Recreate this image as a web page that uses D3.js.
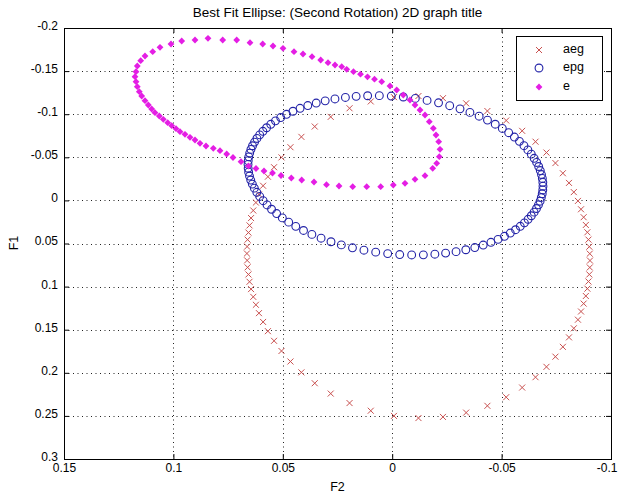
<!DOCTYPE html>
<html><head><meta charset="utf-8">
<script src="https://cdn.jsdelivr.net/npm/d3@7"></script>
<style>body{margin:0;background:#fff}svg{display:block}text{font-family:"Liberation Sans",Arial,sans-serif;fill:#000}</style>
</head><body>
<script>
const title = "Best Fit Ellipse: (Second Rotation) 2D graph title";
const xLabel = "F2", yLabel = "F1";
const xTicks = [0.15, 0.1, 0.05, 0, -0.05, -0.1];
const yTicks = [-0.2, -0.15, -0.1, -0.05, 0, 0.05, 0.1, 0.15, 0.2, 0.25, 0.3];
const seriesNames = ["aeg", "epg", "e"];

const aegX = [-0.0904,-0.0903,-0.0901,-0.0897,-0.0892,-0.0885,-0.0875,-0.0863,-0.0849,-0.0830,-0.0808,-0.0780,-0.0746,-0.0705,-0.0655,-0.0594,-0.0521,-0.0435,-0.0338,-0.0232,
 -0.0120,-0.0008,0.0098,0.0195,0.0281,0.0354,0.0415,0.0465,0.0506,0.0540,0.0568,0.0590,0.0609,0.0623,0.0635,0.0645,0.0652,0.0657,0.0661,0.0663,
 0.0664,0.0663,0.0661,0.0657,0.0652,0.0645,0.0635,0.0623,0.0609,0.0590,0.0568,0.0540,0.0506,0.0465,0.0415,0.0354,0.0281,0.0195,0.0098,-0.0008,
 -0.0120,-0.0232,-0.0338,-0.0435,-0.0521,-0.0594,-0.0655,-0.0705,-0.0746,-0.0780,-0.0808,-0.0830,-0.0849,-0.0863,-0.0875,-0.0885,-0.0892,-0.0897,-0.0901,-0.0903];
const aegY = [0.0698,0.0778,0.0859,0.0941,0.1024,0.1109,0.1197,0.1289,0.1384,0.1484,0.1589,0.1699,0.1813,0.1931,0.2051,0.2171,0.2283,0.2383,0.2462,0.2512,
 0.2525,0.2500,0.2440,0.2351,0.2241,0.2121,0.1995,0.1869,0.1747,0.1629,0.1517,0.1410,0.1308,0.1211,0.1119,0.1029,0.0944,0.0859,0.0777,0.0696,
 0.0616,0.0536,0.0455,0.0373,0.0290,0.0205,0.0117,0.0025,-0.0070,-0.0170,-0.0275,-0.0385,-0.0499,-0.0617,-0.0737,-0.0857,-0.0969,-0.1069,-0.1148,-0.1198,
 -0.1211,-0.1186,-0.1126,-0.1037,-0.0927,-0.0807,-0.0681,-0.0555,-0.0433,-0.0315,-0.0203,-0.0096,0.0006,0.0103,0.0195,0.0285,0.0370,0.0455,0.0537,0.0618];

const epgX = [-0.06882,-0.06857,-0.06815,-0.06759,-0.06685,-0.06594,-0.06486,-0.06358,-0.06211,-0.06043,-0.05853,-0.05638,-0.05398,-0.05132,-0.04837,-0.04513,-0.04159,-0.03775,-0.03365,-0.02918,-0.02441,-0.01950,-0.01424,-0.00890,-0.00344,
 0.00206,0.00754,0.01292,0.01816,0.02326,0.02797,0.03250,0.03671,0.04053,0.04407,0.04731,0.05021,0.05282,0.05514,0.05720,0.05899,0.06055,0.06187,0.06300,0.06392,0.06466,0.06521,0.06561,0.06583,0.06589,
 0.06580,0.06555,0.06513,0.06457,0.06383,0.06292,0.06184,0.06056,0.05909,0.05741,0.05551,0.05336,0.05096,0.04830,0.04535,0.04211,0.03857,0.03473,0.03063,0.02616,0.02139,0.01648,0.01122,0.00588,0.00042,
 -0.00508,-0.01056,-0.01594,-0.02118,-0.02628,-0.03099,-0.03552,-0.03973,-0.04355,-0.04709,-0.05033,-0.05323,-0.05584,-0.05816,-0.06022,-0.06201,-0.06357,-0.06489,-0.06602,-0.06694,-0.06768,-0.06823,-0.06863,-0.06885,-0.06891];
const epgY = [-0.01210,-0.00773,-0.00339,0.00091,0.00518,0.00942,0.01363,0.01780,0.02195,0.02602,0.03006,0.03402,0.03788,0.04162,0.04520,0.04862,0.05179,0.05469,0.05723,0.05944,0.06119,0.06244,0.06316,0.06329,0.06282,
 0.06173,0.06004,0.05777,0.05496,0.05162,0.04795,0.04384,0.03943,0.03489,0.03013,0.02524,0.02028,0.01528,0.01028,0.00530,0.00034,-0.00456,-0.00941,-0.01420,-0.01893,-0.02360,-0.02822,-0.03277,-0.03727,-0.04173,
 -0.04614,-0.05051,-0.05485,-0.05915,-0.06342,-0.06766,-0.07187,-0.07604,-0.08019,-0.08426,-0.08830,-0.09226,-0.09612,-0.09986,-0.10344,-0.10686,-0.11003,-0.11293,-0.11547,-0.11768,-0.11943,-0.12068,-0.12140,-0.12153,-0.12106,
 -0.11997,-0.11828,-0.11601,-0.11320,-0.10986,-0.10619,-0.10208,-0.09767,-0.09313,-0.08837,-0.08348,-0.07852,-0.07352,-0.06852,-0.06354,-0.05858,-0.05368,-0.04883,-0.04404,-0.03931,-0.03464,-0.03002,-0.02547,-0.02097,-0.01651];

const eX = [0.11755,0.11709,0.11650,0.11495,0.11298,0.10946,0.10612,0.10110,0.09621,0.09013,0.08419,0.07747,0.07107,0.06499,0.05919,0.05448,0.04991,0.04488,0.04077,0.03665,0.03268,0.02934,0.02614,0.02308,0.02079,
 0.01769,0.01449,0.01129,0.00809,0.00480,0.00101,-0.00206,-0.00507,-0.00814,-0.01042,-0.01271,-0.01499,-0.01696,-0.01879,-0.02002,-0.02125,-0.02185,-0.02153,-0.02034,-0.01851,-0.01499,-0.01042,-0.00585,-0.00050,
 0.00526,0.01165,0.01805,0.02431,0.03003,0.03574,0.04136,0.04611,0.05082,0.05471,0.05859,0.06225,0.06568,0.06910,0.07276,0.07564,0.07870,0.08176,0.08510,0.08784,0.09013,0.09241,0.09470,0.09698,0.09881,
 0.10078,0.10260,0.10462,0.10644,0.10841,0.10992,0.11147,0.11298,0.11449,0.11559,0.11650,0.11709];
const eY = [-0.14350,-0.14930,-0.15592,-0.16206,-0.16752,-0.17251,-0.17761,-0.18144,-0.18492,-0.18608,-0.18805,-0.18608,-0.18608,-0.18295,-0.18144,-0.17912,-0.17645,-0.17251,-0.16984,-0.16671,-0.16288,-0.15975,-0.15708,-0.15510,-0.15209,
 -0.14930,-0.14640,-0.14339,-0.14060,-0.13770,-0.13271,-0.12807,-0.12227,-0.11647,-0.11067,-0.10487,-0.09907,-0.09130,-0.08364,-0.07587,-0.06810,-0.05928,-0.05070,-0.04304,-0.03725,-0.02866,-0.02448,-0.01984,-0.01787,
 -0.01590,-0.01590,-0.01590,-0.01671,-0.01822,-0.02135,-0.02367,-0.02599,-0.02889,-0.03179,-0.03411,-0.03701,-0.03991,-0.04490,-0.04977,-0.05383,-0.05766,-0.06044,-0.06311,-0.06625,-0.07007,-0.07320,-0.07668,-0.07970,-0.08318,
 -0.08666,-0.09014,-0.09409,-0.09792,-0.10174,-0.10603,-0.11067,-0.11566,-0.12111,-0.12611,-0.13190,-0.13770];

const W = 618, H = 497;
const L = 64, R = 611, T = 28, B = 459;
const colors = {aeg: "#c8504f", epg: "#2424a8", e: "#e41ee4"};

const svg = d3.select("body").append("svg").attr("width", W).attr("height", H);
svg.append("rect").attr("width", W).attr("height", H).attr("fill", "#fff");

const x = d3.scaleLinear().domain([0.15, -0.1]).range([L, R]);
const y = d3.scaleLinear().domain([-0.2, 0.3]).range([T, B]);

// grid
const grid = svg.append("g").attr("stroke", "#222").attr("stroke-width", 1).attr("stroke-dasharray", "1,3.5");
grid.selectAll(".gx").data(xTicks.slice(1, -1)).join("line")
  .attr("x1", d => Math.round(x(d)) + 0.5).attr("x2", d => Math.round(x(d)) + 0.5).attr("y1", T).attr("y2", B);
grid.selectAll(".gy").data(yTicks.slice(1, -1)).join("line")
  .attr("y1", d => Math.round(y(d)) + 0.5).attr("y2", d => Math.round(y(d)) + 0.5).attr("x1", L).attr("x2", R);

// axes
const fmt = d => String(d);
function styleAxis(g) { g.selectAll("path,line").attr("stroke", "#000"); g.selectAll("text").attr("font-size", 12).attr("font-family", '"Liberation Sans",Arial,sans-serif'); }
const xb = svg.append("g").attr("transform", `translate(0,${B})`)
  .call(d3.axisBottom(x).tickValues(xTicks).tickFormat(fmt).tickSizeInner(-5).tickSizeOuter(0).tickPadding(4)).call(styleAxis);
// keep the last label inside the page (it sits at the right edge, as in the reference)
xb.selectAll(".tick text").filter(d => d === xTicks[xTicks.length - 1]).attr("text-anchor", "end").attr("x", W - 1 - R + (R - x(xTicks[xTicks.length - 1])));
svg.append("g").attr("transform", `translate(0,${T})`)
  .call(d3.axisTop(x).tickValues(xTicks).tickFormat("").tickSizeInner(-5).tickSizeOuter(0)).call(styleAxis);
svg.append("g").attr("transform", `translate(${L},0)`)
  .call(d3.axisLeft(y).tickValues(yTicks).tickFormat(fmt).tickSizeInner(-5).tickSizeOuter(0).tickPadding(6)).call(styleAxis)
  .selectAll("text").attr("dy", "0.12em");
svg.append("g").attr("transform", `translate(${R},0)`)
  .call(d3.axisRight(y).tickValues(yTicks).tickFormat("").tickSizeInner(-5).tickSizeOuter(0)).call(styleAxis);
svg.append("rect").attr("x", L + 0.5).attr("y", T + 0.5).attr("width", R - L).attr("height", B - T)
  .attr("fill", "none").attr("stroke", "#000");

// marks
const crossPath = "M-3,-3L3,3M-3,3L3,-3";
const diamondPath = "M0,-3.4L3.4,0L0,3.4L-3.4,0Z";
const aeg = aegX.map((v, i) => [v, aegY[i]]);
const epg = epgX.map((v, i) => [v, epgY[i]]);
const e = eX.map((v, i) => [v, eY[i]]);

svg.append("g").selectAll("path").data(aeg).join("path")
  .attr("d", crossPath).attr("transform", d => `translate(${x(d[0])},${y(d[1])})`)
  .attr("stroke", colors.aeg).attr("stroke-width", 1).attr("fill", "none");
svg.append("g").selectAll("circle").data(epg).join("circle")
  .attr("cx", d => x(d[0])).attr("cy", d => y(d[1])).attr("r", 3.9)
  .attr("fill", "none").attr("stroke", colors.epg).attr("stroke-width", 1.1);
svg.append("g").selectAll("path").data(e).join("path")
  .attr("d", diamondPath).attr("transform", d => `translate(${x(d[0])},${y(d[1])})`)
  .attr("fill", colors.e);

// legend
const lg = svg.append("g");
lg.append("rect").attr("x", 516.5).attr("y", 36.5).attr("width", 86).attr("height", 64)
  .attr("fill", "#fff").attr("stroke", "#000");
const rows = [50, 68, 87];
lg.append("path").attr("d", crossPath).attr("transform", `translate(539,${rows[0]})`).attr("stroke", colors.aeg).attr("fill", "none");
lg.append("circle").attr("cx", 539).attr("cy", rows[1]).attr("r", 3.9).attr("fill", "none").attr("stroke", colors.epg).attr("stroke-width", 1.1);
lg.append("path").attr("d", diamondPath).attr("transform", `translate(539,${rows[2]})`).attr("fill", colors.e);
lg.selectAll("text").data(seriesNames).join("text")
  .attr("x", 563).attr("y", (d, i) => rows[i] - 1).attr("dy", "0.32em").attr("font-size", 12.5).text(d => d);

// titles
svg.append("text").attr("x", (L + R) / 2).attr("y", 17).attr("text-anchor", "middle").attr("font-size", 13.5).text(title);
svg.append("text").attr("x", (L + R) / 2).attr("y", 491).attr("text-anchor", "middle").attr("font-size", 12.5).text(xLabel);
svg.append("text").attr("transform", "translate(18,243) rotate(-90)").attr("text-anchor", "middle").attr("font-size", 12.5).text(yLabel);
</script>
</body></html>
